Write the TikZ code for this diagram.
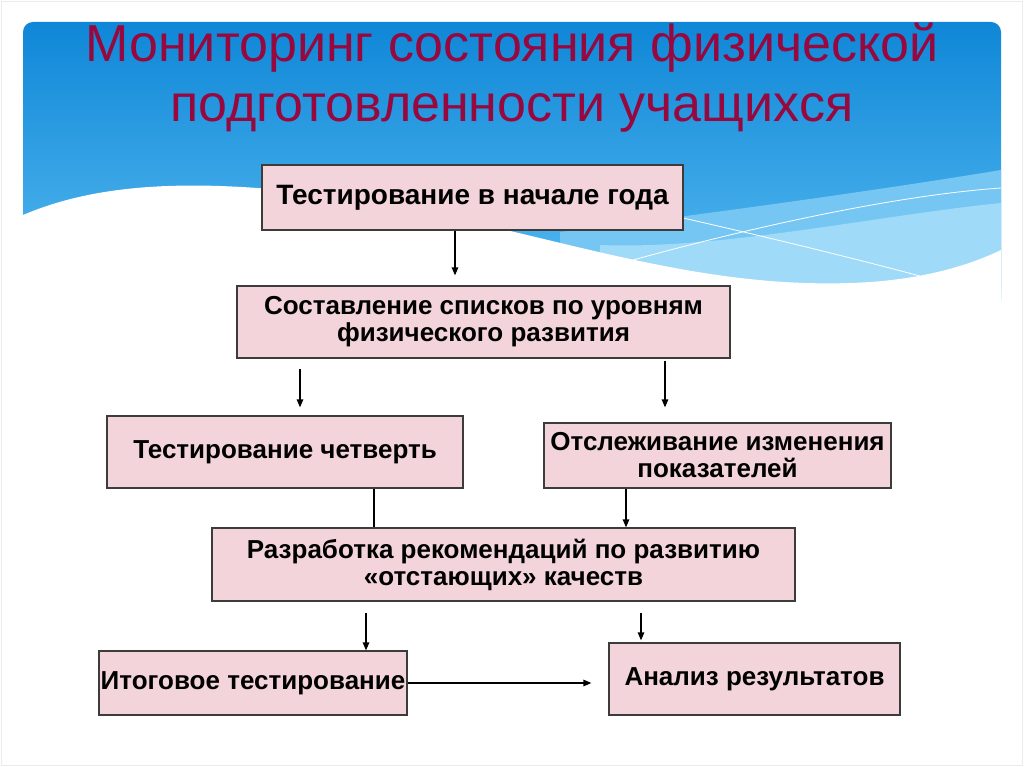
\documentclass[tikz,border=0pt]{standalone}
\usepackage{fontspec}
\setmainfont{Liberation Sans}
\usetikzlibrary{arrows.meta}
\definecolor{skytop}{RGB}{15,135,215}
\definecolor{skybot}{RGB}{85,185,240}
\definecolor{bandmid}{RGB}{118,198,243}
\definecolor{bandlow}{RGB}{160,218,249}
\definecolor{titlered}{RGB}{150,8,62}
\definecolor{boxpink}{RGB}{242,212,218}
\definecolor{boxline}{RGB}{60,60,60}
\begin{document}
\begin{tikzpicture}[x=1pt,y=-1pt,
    box/.style={draw=boxline,line width=1.3pt,fill=boxpink,inner sep=0pt,align=center,
      font=\fontsize{26}{27}\selectfont\bfseries},
    arr/.style={line width=1.3pt,-{Triangle[length=8pt,width=6.5pt]}}]
    \useasboundingbox (0,0) rectangle (1024,767);
    \fill[white] (0,0) rectangle (1024,767);
    \draw[black!8,line width=0.8pt] (1,1) rectangle (1022,765);

    % slide background
    \begin{scope}
        \clip[rounded corners=10pt] (23,22) rectangle (1001,400);
        \shade[top color=skytop,bottom color=skybot] (23,22) rectangle (1001,290);
        \fill[bandmid] (560,232) .. controls (700,215) and (880,190) .. (1001,170) -- (1001,300) -- (560,300) -- cycle;
        \fill[bandlow] (600,245) .. controls (720,250) and (880,215) .. (1001,203) -- (1001,300) -- (600,300) -- cycle;
        \fill[white] (23,215) .. controls (70,195) and (130,183) .. (220,186)
            .. controls (470,195) and (640,290) .. (850,283)
            .. controls (920,281) and (970,265) .. (1001,250) -- (1001,400) -- (23,400) -- cycle;
        \draw[white,line width=0.8pt] (683,218) .. controls (780,240) and (860,260) .. (920,276);
        \draw[white,line width=0.8pt] (633,260) .. controls (760,225) and (900,195) .. (1001,188);
    \end{scope}

    % title
    \node[anchor=base,text=titlered,font=\fontsize{52}{52}\selectfont] (title1) at (512,62) {Мониторинг состояния физической};
    \node[anchor=base,text=titlered,font=\fontsize{52}{52}\selectfont] (title2) at (512,122) {подготовленности учащихся};

    % boxes
    \node[box,minimum width=421pt,minimum height=65pt,font=\fontsize{28}{30}\selectfont\bfseries] (start) at (472.5,197.5) {Тестирование в начале года};
    \node[box,minimum width=493pt,minimum height=72pt] (lists) at (483.5,322) {Составление списков по уровням\\физического развития};
    \node[box,minimum width=356pt,minimum height=72pt] (quarter) at (285,452) {Тестирование четверть};
    \node[box,minimum width=347pt,minimum height=65pt] (track) at (717.5,455.5) {Отслеживание изменения\\показателей};
    \node[box,minimum width=583pt,minimum height=73pt] (recs) at (503.5,564.5) {Разработка рекомендаций по развитию\\«отстающих» качеств};
    \node[box,minimum width=308pt,minimum height=64pt] (final) at (253,683) {Итоговое тестирование};
    \node[box,minimum width=291pt,minimum height=72pt] (analysis) at (754.5,679) {Анализ результатов};

    % connectors
    \draw[arr] ([xshift=-17.5pt]start.south) -- ([xshift=-28.5pt,yshift=10pt]lists.north);
    \draw[arr] ([xshift=-183.5pt,yshift=-10pt]lists.south) -- ([xshift=15pt,yshift=8pt]quarter.north);
    \draw[arr] ([xshift=181.5pt,yshift=-2pt]lists.south) -- ([xshift=-52.5pt,yshift=15pt]track.north);
    \draw[line width=1.3pt] ([xshift=89pt]quarter.south) -- ([xshift=-129.5pt]recs.north);
    \draw[arr] ([xshift=-91.5pt]track.south) -- ([xshift=122.5pt]recs.north);
    \draw[arr] ([xshift=-137.5pt,yshift=-11pt]recs.south) -- ([xshift=113pt]final.north);
    \draw[arr] ([xshift=137.5pt,yshift=-11pt]recs.south) -- ([xshift=-113.5pt,yshift=2pt]analysis.north);
    \draw[arr] (final.east) -- ([xshift=-17pt,yshift=-4pt]analysis.west);
\end{tikzpicture}
\end{document}
